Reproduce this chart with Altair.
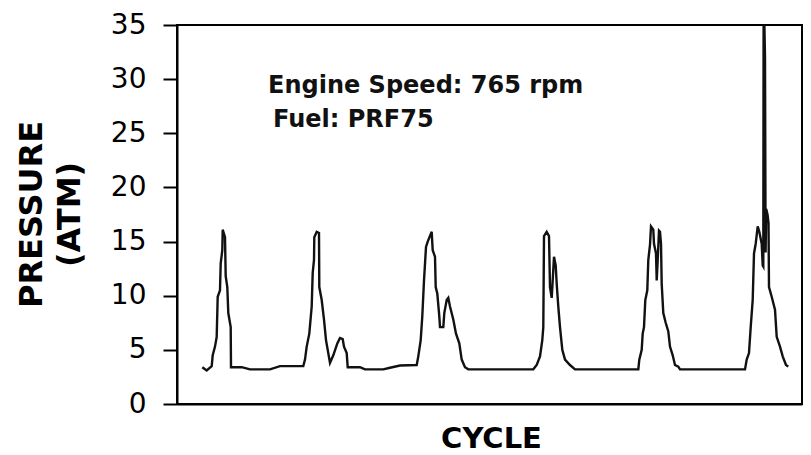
import altair as alt
import pandas as pd

# Trace: position along the record and pressure (atm)
t = [25.3, 29.7, 34.7, 35.7, 38, 39.7, 40.7, 43, 43.7, 45.3, 45.7, 48, 48.7, 50.3, 51.3, 53.7, 54,
     64.7, 73, 93, 103, 126.3, 128, 129.7, 132.3, 134.7, 135.7, 137, 137.3, 139.7, 142, 142.3, 144.7,
     147, 149, 153, 156.3, 160.3, 163, 165.7, 167, 169.7, 170.7, 183, 188, 206.3, 213, 223,
     239.7, 241.3, 243.7, 245.3, 247, 249, 250.7, 254.7, 255.7, 258, 258.7, 260.3, 262.3, 263,
     266.3, 267.3, 269.7, 271.3, 273, 276.3, 279, 282.3, 284.7, 288, 291.3,
     356.3, 359.7, 363, 365.3, 366.3, 367, 369.7, 372, 373, 374.7, 375.7, 377, 378.7, 379.7,
     381.3, 383, 385.3, 388, 393, 398,
     461.3, 462.3, 464.7, 465.7, 467, 468.3, 470.3, 471.3, 473, 474, 476.3, 477, 479, 479.7,
     480.7, 482, 483, 484, 484.7, 486.3, 488.7, 491.3, 493, 495.7, 498, 501.3, 503,
     568, 569.7, 572, 573.7, 575.7, 577, 578.7, 580.7, 582.3, 584.7, 585.7, 586.3, 586.6, 587.4,
     588, 588.6, 589.2, 590.5, 591.5, 592, 594.7, 598, 599.7, 603, 605.7, 609, 611.3]
pressure = [3.4, 3.1, 3.5, 4.5, 5.3, 6.2, 9.9, 10.5, 13.0, 14.2, 16.1, 15.4, 11.8, 10.8, 8.4, 7.1, 3.4,
            3.4, 3.2, 3.2, 3.5, 3.5, 4.1, 5.3, 6.5, 9.0, 12.1, 13.3, 15.4, 15.9, 15.8, 10.8, 9.6,
            7.8, 5.9, 3.8, 4.5, 5.6, 6.1, 6.0, 5.3, 4.7, 3.4, 3.4, 3.2, 3.2, 3.35, 3.55,
            3.6, 4.4, 5.9, 8.1, 11.4, 14.5, 15.0, 15.9, 14.2, 13.6, 10.8, 10.2, 8.1, 7.1,
            7.1, 8.4, 9.6, 9.8, 9.0, 7.8, 6.5, 5.6, 4.1, 3.4, 3.2,
            3.2, 3.6, 4.4, 5.9, 7.1, 15.5, 15.9, 15.5, 10.8, 9.8, 11.4, 13.6, 12.8, 11.1,
            9.0, 7.1, 5.0, 4.1, 3.6, 3.2,
            3.2, 4.1, 5.0, 6.5, 7.1, 9.6, 10.5, 13.3, 14.7, 16.4, 16.1, 14.8, 13.9, 11.4,
            13.3, 16.0, 15.9, 14.8, 11.1, 8.4, 7.5, 6.7, 5.3, 4.5, 3.6, 3.45, 3.2,
            3.2, 4.1, 4.7, 7.1, 9.6, 13.9, 14.8, 16.4, 15.9, 14.8, 12.8, 12.7, 35, 35,
            32, 14, 18, 17.5, 16.7, 10.8, 9.9, 8.7, 6.2, 5.3, 4.4, 3.6, 3.45]

note_text = ["Engine Speed: 765 rpm", "Fuel: PRF75"]
note_t = [91, 96]
note_p = [28.7, 25.6]

df = pd.DataFrame({"t": t, "p": pressure, "i": list(range(len(t)))})
notes = pd.DataFrame({"t": note_t, "p": note_p, "label": note_text})

xs = alt.Scale(domain=[0, 625], nice=False, zero=False)
ys = alt.Scale(domain=[0, 35], nice=False)

line = alt.Chart(df).mark_line(color="#111111", strokeWidth=2.4, clip=True).encode(
    x=alt.X("t:Q", scale=xs,
            axis=alt.Axis(title="CYCLE", labels=False, ticks=False, grid=False,
                          domainColor="black", domainWidth=2,
                          titleFont="DejaVu Sans", titleFontSize=29, titleFontWeight="bold",
                          titleColor="black", titleX=314, titleY=43,
                          titleBaseline="alphabetic")),
    y=alt.Y("p:Q", scale=ys,
            axis=alt.Axis(title=["PRESSURE", "(ATM)"], values=[0, 5, 10, 15, 20, 25, 30, 35],
                          grid=False, domainColor="black", domainWidth=2,
                          tickColor="black", tickWidth=2, tickSize=14, labelPadding=17,
                          labelFont="DejaVu Sans", labelFontSize=28, labelColor="black",
                          titleFont="DejaVu Sans", titleFontSize=32, titleFontWeight="bold",
                          titleColor="black", titleLineHeight=38, titleAngle=270,
                          titleX=-146, titleY=189, titleBaseline="middle")),
    order="i:Q",
)

text = alt.Chart(notes).mark_text(
    align="left", baseline="alphabetic", font="DejaVu Sans", fontSize=24,
    fontWeight="bold", color="#111111"
).encode(
    x=alt.X("t:Q", scale=xs),
    y=alt.Y("p:Q", scale=ys),
    text="label:N",
)

chart = alt.layer(line, text).properties(
    width=625, height=379,
    autosize=alt.AutoSizeParams(type="none"),
    padding={"left": 169, "top": 17, "right": 1, "bottom": 51},
    background="white",
).configure_view(stroke="black", strokeWidth=2)

chart.save("out.html", embed_options={"renderer": "svg", "actions": False})
